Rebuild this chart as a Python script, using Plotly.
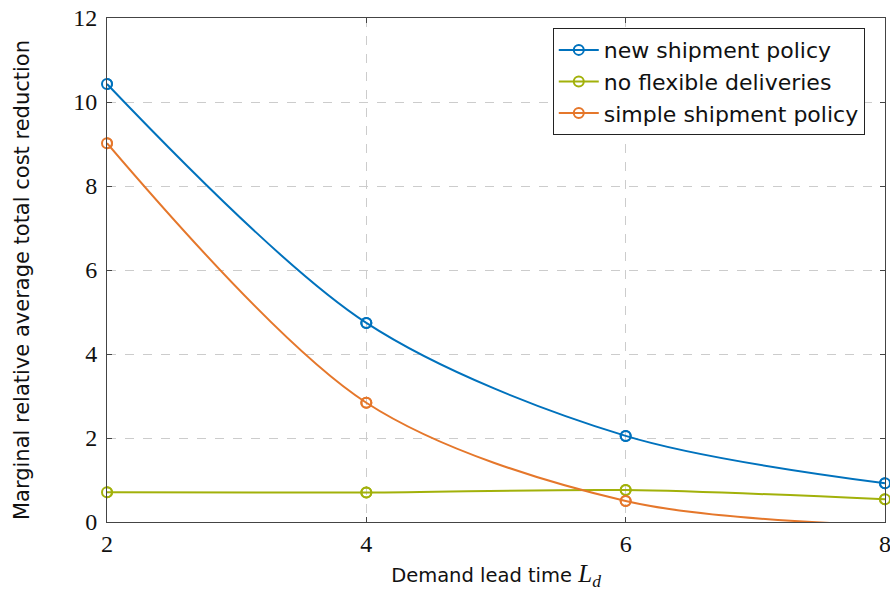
import plotly.graph_objects as go

lead_time = [2, 4, 6, 8]
new_policy = [10.43, 4.74, 2.05, 0.92]
no_flexible = [0.71, 0.70, 0.76, 0.54]
simple_policy = [9.02, 2.84, 0.50, -0.08]

series = [
    ("new shipment policy", new_policy, "#0072BD"),
    ("no flexible deliveries", no_flexible, "#A2B10A"),
    ("simple shipment policy", simple_policy, "#E5772B"),
]

Y_MIN, Y_MAX = 0, 12

SANS = "'DejaVu Sans', sans-serif"
SERIF = "'Liberation Serif', 'DejaVu Serif', serif"

fig = go.Figure()
for name, vals, col in series:
    fig.add_trace(go.Scatter(
        x=lead_time, y=vals, name=name, mode="lines+markers",
        line=dict(color=col, width=2, shape="spline", smoothing=0.9),
        marker=dict(symbol="circle-open", size=10, color=col, line=dict(width=2, color=col)),
        cliponaxis=True,
    ))
# markers that lie inside the value range are drawn unclipped (edge points stay whole)
for name, vals, col in series:
    xs = [x for x, v in zip(lead_time, vals) if Y_MIN <= v <= Y_MAX]
    ys = [v for v in vals if Y_MIN <= v <= Y_MAX]
    fig.add_trace(go.Scatter(
        x=xs, y=ys, mode="markers", showlegend=False, hoverinfo="skip",
        marker=dict(symbol="circle-open", size=10, color=col, line=dict(width=2, color=col)),
        cliponaxis=False,
    ))

axis_common = dict(
    showline=True, linecolor="#444", linewidth=1, mirror="ticks",
    ticks="inside", ticklen=5, tickcolor="#444",
    showgrid=True, gridcolor="#cccccc", griddash="dash", gridwidth=1,
    zeroline=False, automargin=False, ticklabeloverflow="allow",
    tickfont=dict(family=SERIF, size=24, color="#111"),
)

fig.update_layout(
    width=890, height=594,
    margin=dict(l=107, r=5, t=18, b=72),
    paper_bgcolor="white", plot_bgcolor="white",
    xaxis=dict(range=[2, 8], tickvals=[2, 4, 6, 8],
               title=dict(text="Demand lead time <span style='font-family:Liberation Serif;font-size:25px'><i>L</i><sub><i>d</i></sub></span>",
                          font=dict(family=SANS, size=19.5, color="#111"), standoff=12),
               **axis_common),
    yaxis=dict(range=[Y_MIN, Y_MAX], tickvals=[0, 2, 4, 6, 8, 10, 12],
               ticklabelstandoff=4, **axis_common),
    annotations=[dict(
        text="Marginal relative average total cost reduction",
        textangle=-90, xref="paper", yref="paper", x=0, y=0.48,
        xanchor="center", yanchor="middle", xshift=-85, showarrow=False,
        font=dict(family=SANS, size=21, color="#111"),
    )],
    legend=dict(x=0.974, y=0.98, xanchor="right", yanchor="top",
                bgcolor="white", bordercolor="#222", borderwidth=1,
                font=dict(family=SANS, size=22, color="#111"),
                itemwidth=40, tracegroupgap=0),
    showlegend=True,
)

# remove the default page margin so the 890x594 figure fills the window exactly
fig.write_html("out.html", config={"displayModeBar": False},
               post_script="document.body.style.margin='0';document.body.style.overflow='hidden';")
